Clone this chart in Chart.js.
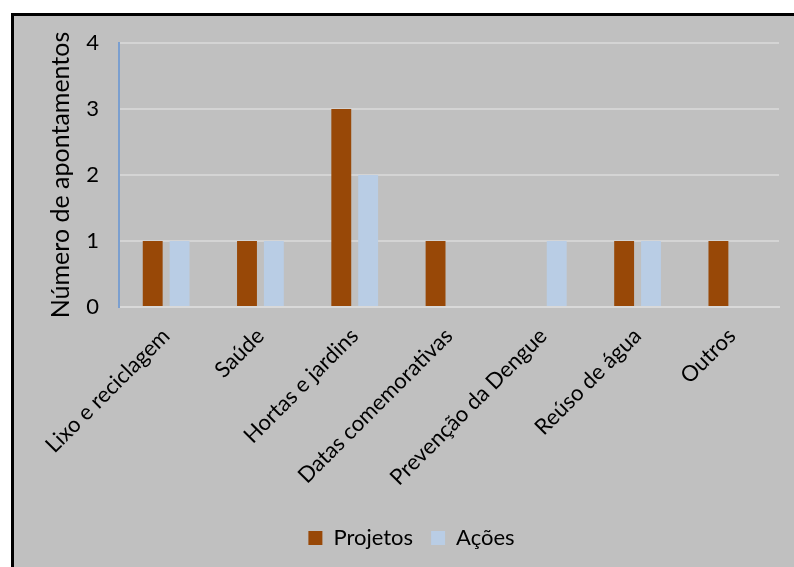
<!DOCTYPE html>
<html>
<head>
<meta charset="utf-8">
<script src="https://cdn.jsdelivr.net/npm/chart.js@4"></script>
<style>
  html, body { margin: 0; padding: 0; background: #fff; overflow: hidden; }
  #frame { position: absolute; left: 11px; top: 13px; width: 820px; height: 600px;
           border: 3px solid #000; background: #c0c0c0; }
  #wrap { position: absolute; left: 0; top: 0; width: 794px; height: 567px; }
</style>
</head>
<body>
<div id="frame"></div>
<div id="wrap"><canvas id="chart" width="794" height="567"></canvas></div>
<script>
// categorias e valores
const categories = ['Lixo e reciclagem', 'Saúde', 'Hortas e jardins', 'Datas comemorativas',
                    'Prevenção da Dengue', 'Reúso de água', 'Outros'];
const projetos = [1, 1, 3, 1, 0, 1, 1];
const acoes    = [1, 1, 2, 0, 1, 1, 0];
const yTicks   = [0, 1, 2, 3, 4];

const FONT = 'Lato, "Open Sans", sans-serif';
Chart.defaults.font.family = FONT;
Chart.defaults.color = '#000';

new Chart(document.getElementById('chart'), {
  type: 'bar',
  data: {
    labels: categories,
    datasets: [
      { label: 'Projetos', data: projetos, backgroundColor: '#984807' },
      { label: 'Ações', data: acoes, backgroundColor: '#b9cde5' }
    ]
  },
  options: {
    responsive: false,
    animation: false,
    layout: { padding: { left: 44, right: 15, top: 43, bottom: 8 } },
    datasets: { bar: { categoryPercentage: 0.57, barPercentage: 0.74 } },
    plugins: {
      tooltip: { enabled: false },
      legend: {
        position: 'bottom',
        labels: { boxWidth: 14, boxHeight: 14, padding: 18, font: { size: 22 }, color: '#000' }
      }
    },
    scales: {
      x: {
        grid: { display: false, drawTicks: false },
        border: { color: '#d9d9d9', width: 2 },
        ticks: { minRotation: 45, maxRotation: 45, padding: 16, font: { size: 22 }, color: '#000' },
        afterFit: s => { s.height = 202; }
      },
      y: {
        min: 0, max: 4,
        afterBuildTicks: s => { s.ticks = yTicks.map(v => ({ value: v })); },
        grid: { color: '#d4d4d4', lineWidth: 2, drawTicks: false },
        border: { color: '#7b9fcf', width: 2 },
        ticks: { padding: 20, font: { size: 22 }, color: '#000' },
        title: { display: true, text: 'Número de apontamentos', font: { size: 25 }, color: '#000', padding: 2 },
        afterFit: s => { s.width = 75; }
      }
    }
  }
});
</script>
</body>
</html>
